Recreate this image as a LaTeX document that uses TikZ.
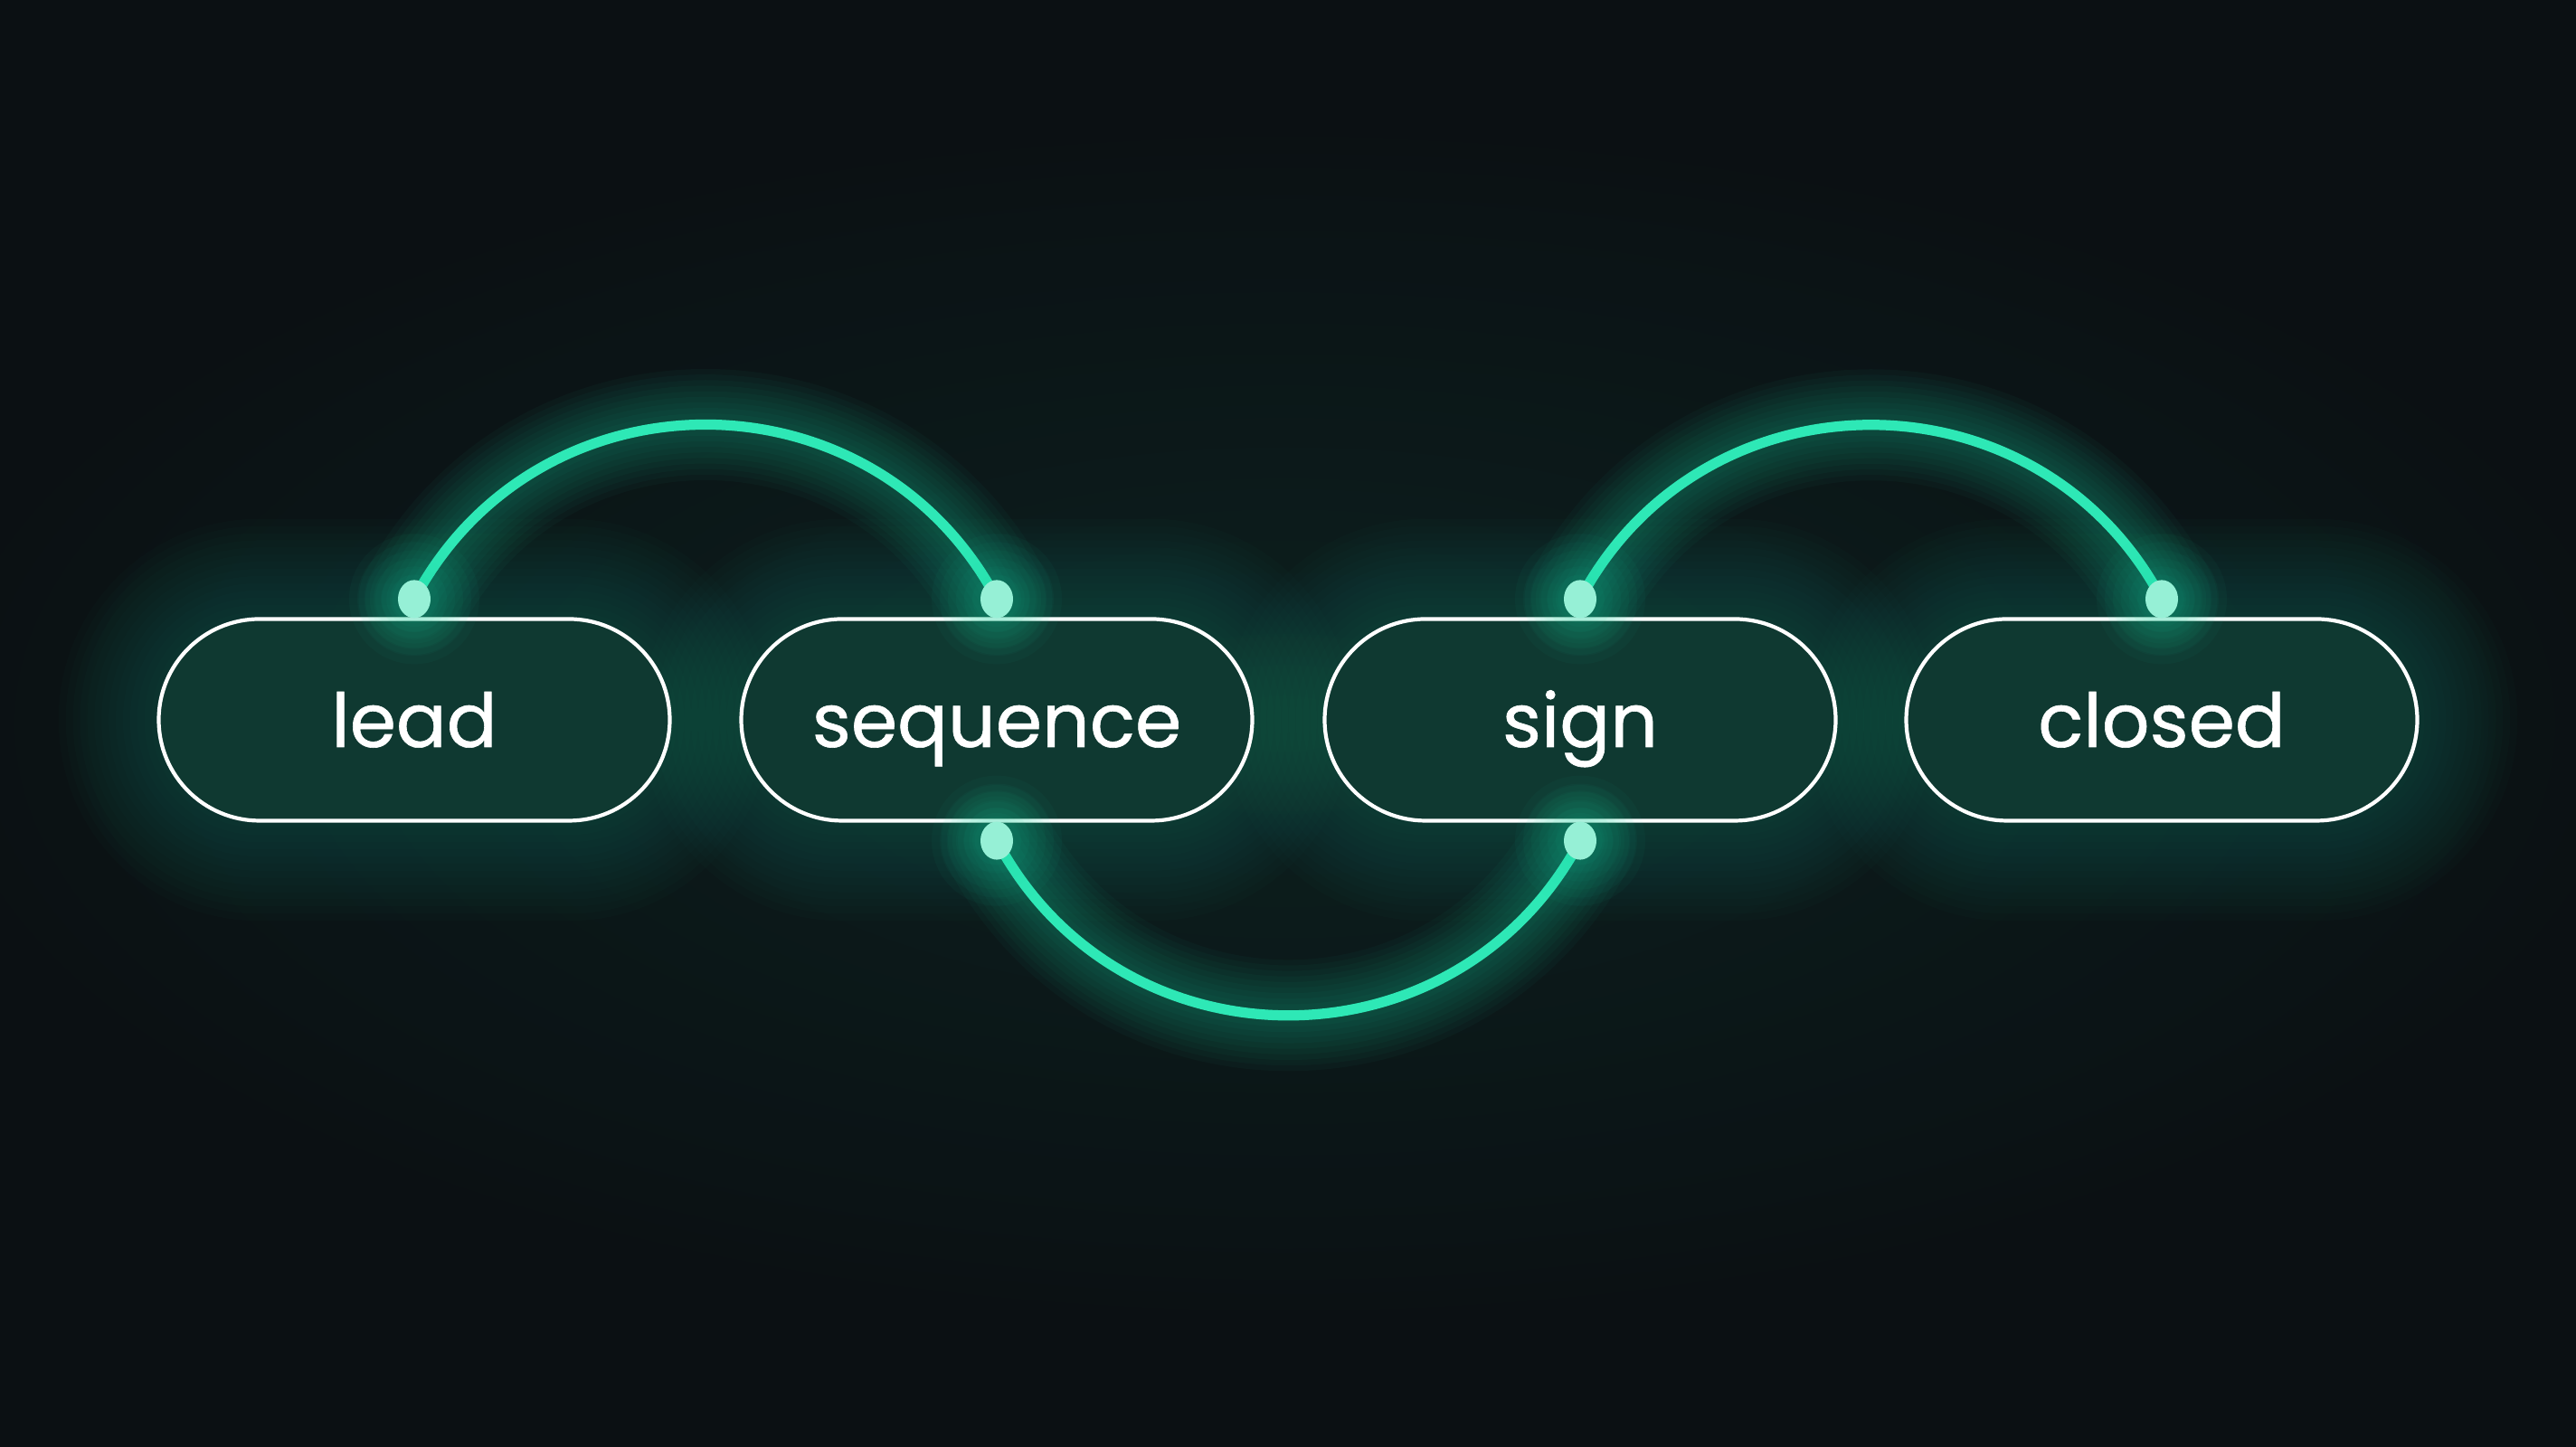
\documentclass[tikz,border=0pt]{standalone}
\usepackage{fontspec}
\setmainfont{Poppins}
\newfontfamily\pillfont{Poppins}[FakeBold=0.7]
\definecolor{bgdark}{RGB}{11,16,19}
\definecolor{wireglow}{RGB}{40,220,170}

\begin{document}
\begin{tikzpicture}[x=1cm,y=1cm,
    pill/.style={rectangle, rounded corners=1.115cm, draw=white, line width=1.2pt, fill=pillfill,
                 minimum width=5.65cm, minimum height=2.23cm, text=white,
                 text height=0.6cm, text depth=0cm,
                 font=\pillfont\fontsize{23.5}{28}\selectfont},
    wire/.style={wirecol, line width=3.2pt, line cap=round}]
    % Define colors for pills and wires
    \definecolor{pillfill}{RGB}{15,57,49}
    \definecolor{wirecol}{RGB}{46,232,182}
    \definecolor{dotcol}{RGB}{150,240,214}

    % Background
    \useasboundingbox (0,0) rectangle (28.48,16);
    \fill[bgdark] (0,0) rectangle (28.48,16);
    \shade[inner color=wireglow!10!bgdark, outer color=bgdark, opacity=0.8] (14.2,8) ellipse (16 and 7);

    % Soft halo behind the pills
    \foreach \cx in {4.58,11.02,17.47,23.90} {
        \foreach \k in {1,...,14} {
            \draw[wireglow, line width=\k*4.5pt, opacity=0.014, rounded corners=1.1cm]
                (\cx-2.825,6.925) rectangle (\cx+2.825,9.155);
        }
    }

    % Pills
    \node[pill] (lead) at (4.58,8.04) {lead};
    \node[pill] (sequence) at (11.02,8.04) {sequence};
    \node[pill] (sign) at (17.47,8.04) {sign};
    \node[pill] (closed) at (23.90,8.04) {closed};

    % Connection points just off the pill edges
    \coordinate (leadTop) at ([yshift=2mm]lead.north);
    \coordinate (seqTop) at ([yshift=2mm]sequence.north);
    \coordinate (seqBot) at ([yshift=-2mm]sequence.south);
    \coordinate (signBot) at ([yshift=-2mm]sign.south);
    \coordinate (signTop) at ([yshift=2mm]sign.north);
    \coordinate (closedTop) at ([yshift=2mm]closed.north);

    % Glowing arcs
    \foreach \a/\b/\o/\i in {leadTop/seqTop/62/118, seqBot/signBot/-62/-118, signTop/closedTop/62/118} {
        \foreach \k in {1,...,10} {
            \draw[wireglow, line width=\k*3.5pt, opacity=0.035, line cap=round]
                (\a) to[out=\o, in=\i, looseness=1.16] (\b);
        }
        \draw[wire] (\a) to[out=\o, in=\i, looseness=1.16] (\b);
    }

    % Dots with their glow
    \foreach \p in {leadTop, seqTop, seqBot, signBot, signTop, closedTop} {
        \foreach \k in {1,...,8} {
            \fill[wireglow, opacity=0.035] (\p) circle (\k*0.09);
        }
        \fill[dotcol] (\p) ellipse (0.18 and 0.21);
    }
\end{tikzpicture}
\end{document}
